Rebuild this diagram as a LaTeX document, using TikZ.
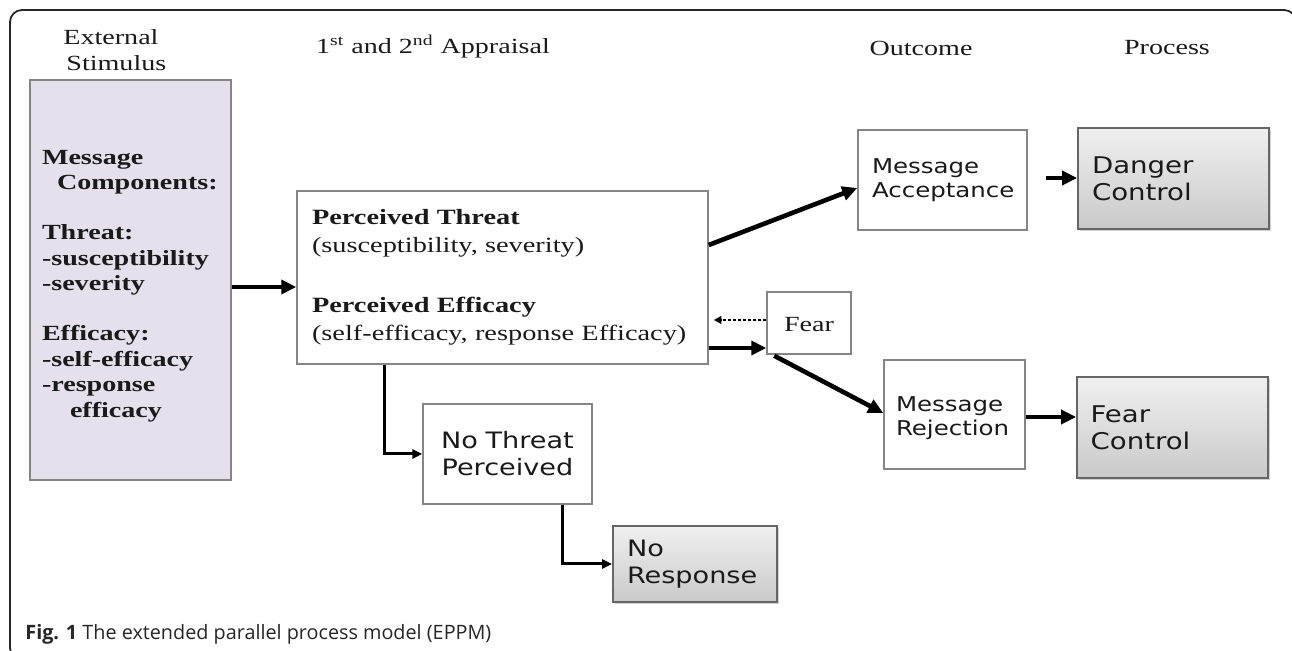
\documentclass[tikz,border=0pt]{standalone}
\usepackage{fontspec}
\setmainfont{Liberation Serif}
\newfontfamily\serifS[FakeStretch=1.3]{Liberation Serif}
\newfontfamily\sansS[FakeStretch=1.2]{DejaVu Sans}
\newfontfamily\capfont{Open Sans}
\usetikzlibrary{arrows.meta,shadows,calc}
\definecolor{lav}{HTML}{E5E0EC}
\definecolor{boxline}{HTML}{858585}
\definecolor{txt}{HTML}{1A1A1A}
\begin{document}
\begin{tikzpicture}[x=0.5pt,y=-0.5pt,
  hdr/.style={inner sep=0pt, text=txt, font=\serifS\fontsize{10.8}{13}\selectfont},
  stimbox/.style={draw=boxline, line width=0.75pt, fill=lav, align=left, inner ysep=0pt,
    inner xsep=6pt, text width=88.5pt, minimum height=200pt, text=txt,
    font=\serifS\bfseries\fontsize{10.8}{12.75}\selectfont},
  apprbox/.style={draw=boxline, line width=0.75pt, fill=white, align=left, inner ysep=0pt,
    inner xsep=7.5pt, text width=190.5pt, minimum height=86.5pt, text=txt,
    font=\serifS\fontsize{10.9}{14}\selectfont},
  outbox/.style={draw=boxline, line width=0.75pt, fill=white, inner ysep=0pt, text=txt},
  procbox/.style={draw=black!60, line width=0.9pt, top color=gray!12, bottom color=gray!42,
    inner ysep=0pt, align=left, text=txt,
    drop shadow={shadow xshift=0.8pt, shadow yshift=-0.8pt, opacity=0.35}},
  msans/.style={font=\sansS\fontsize{10.2}{12}\selectfont},
  bsans/.style={font=\sansS\fontsize{11.5}{13.5}\selectfont},
  lsans/.style={font=\sansS\fontsize{11.3}{13.5}\selectfont},
  thickarrow/.style={line width=2.3pt, -{Triangle[length=7.5pt,width=7pt]}},
  medarrow/.style={line width=1.5pt, -{Triangle[length=5pt,width=4.5pt]}},
  dotarrow/.style={line width=1.2pt, dash pattern=on 1.5pt off 1pt, -{Triangle[length=3.8pt,width=3.8pt]}}
]
\useasboundingbox (0,0) rectangle (1292,651);
\clip (0,0) rectangle (1292,651);

% outer frame
\draw[line width=0.9pt, black!85, rounded corners=6pt] (10,10) rectangle (1296,660);

% headers
\node[hdr, anchor=west, align=left] (h1) at (63,50) {External\\\hspace*{1.5pt}Stimulus};
\node[hdr] (h2) at (433,47) {1\textsuperscript{st} and 2\textsuperscript{nd} Appraisal};
\node[hdr] (h3) at (921,48) {Outcome};
\node[hdr] (h4) at (1167,48) {Process};

% boxes
\node[stimbox] (stim) at (130.5,280) {\rule{0pt}{13pt}Message\\\hspace*{7.5pt}Components:\\[12.25pt]Threat:\\-susceptibility\\-severity\\[12.25pt]Efficacy:\\-self-efficacy\\-response\\\hspace*{14pt}efficacy};
\node[apprbox] (appr) at (502.5,277.5) {{\bfseries Perceived Threat}\\(susceptibility, severity)\\[16pt]{\bfseries Perceived Efficacy}\\(self-efficacy, response Efficacy)};
\node[outbox, msans, align=left, inner xsep=7pt, text width=70.5pt, minimum height=50pt] (ma) at (942.5,180) {Message\\Acceptance};
\node[procbox, bsans, inner xsep=7pt, text width=81.5pt, minimum height=50.5pt] (dc) at (1173.5,178.5) {Danger\\Control};
\node[outbox, font=\serifS\fontsize{10.8}{12}\selectfont, minimum width=42pt, minimum height=31pt, inner sep=0pt] (fear) at (809,323) {\rule{0pt}{9pt}Fear};
\node[outbox, msans, align=left, inner xsep=6pt, text width=58.5pt, minimum height=54.5pt] (mr) at (954.5,414.5) {\rule{0pt}{11pt}Message\\Rejection};
\node[procbox, bsans, inner xsep=6.8pt, text width=81.9pt, minimum height=50.5pt] (fc) at (1172.5,427.5) {Fear\\Control};
\node[outbox, lsans, align=center, inner xsep=2pt, text width=80.5pt, minimum height=50pt] (ntp) at (507.5,454) {No Threat\\Perceived};
\node[procbox, lsans, inner xsep=7pt, text width=68pt, minimum height=38pt] (nr) at (695,564) {No\\Response};

% connectors
\draw[thickarrow] ($(stim.east)+(0,7)$) coordinate (s1) -- (s1 -| appr.west);
\draw[thickarrow] ($(appr.east)+(0,-32.5)$) -- ($(ma.west)+(0,8)$);
\draw[thickarrow] ($(ma.east)+(18,-2)$) coordinate (m1) -- (m1 -| dc.west);
\draw[thickarrow] ($(appr.east)+(0,70.5)$) coordinate (p2) -- (p2 -| fear.west);
\draw[dotarrow] ($(fear.west)+(0,-3)$) coordinate (f1) -- ($(f1 -| appr.east)+(5,0)$) coordinate (f2);
\draw[thickarrow] ($(fear.south west)+(8,1)$) -- ($(mr.west)+(0,-1.5)$);
\draw[thickarrow] ($(mr.east)+(0,2.5)$) coordinate (r1) -- (r1 -| fc.west);
\draw[medarrow] ($(appr.south west)+(88,0)$) |- (ntp.west);
\draw[medarrow] ($(ntp.south west)+(140,0)$) |- (nr.west);

% caption
\node[anchor=west, inner sep=0pt, text=black!85, font=\capfont\fontsize{9.9}{11}\selectfont] (cap) at (25,634) {\textbf{Fig. 1} The extended parallel process model (EPPM)};
\end{tikzpicture}
\end{document}
